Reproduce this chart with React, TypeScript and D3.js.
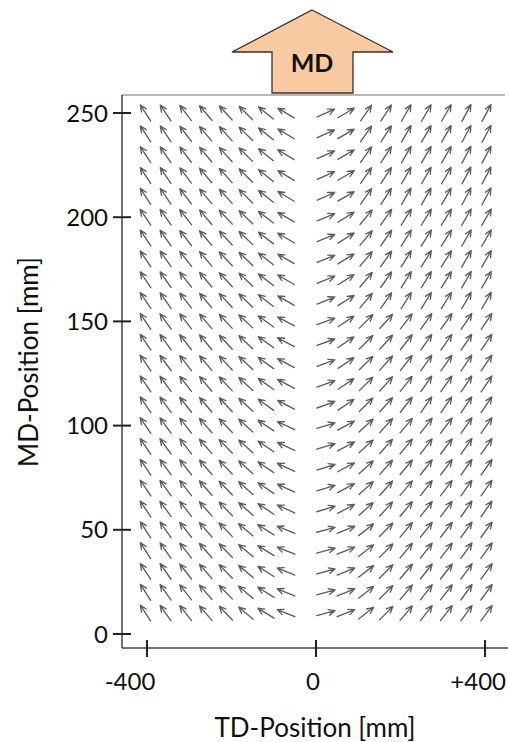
import React from "react";
import * as d3 from "d3";

// Grid of measurement positions (mm)
const tdLeft = [-403.5, -356, -308.5, -261, -213.5, -166, -118.5, -71];
const tdRight = [23.5, 71, 118.5, 166, 213.5, 261, 308.5, 356, 403.5];
const mdRows = [250, 240, 230, 220, 210, 200, 190, 180, 170, 160, 150, 140, 130, 120, 110, 100, 90, 80, 70, 60, 50, 40, 30, 20, 10];

// Orientation angle (degrees above horizontal), one list per band of five rows, top to bottom
const angleLeft = [
  [57, 56, 53, 50, 48, 45, 39, 31],
  [56, 55, 52, 50, 47, 44, 38, 30],
  [56, 54, 52, 50, 47, 43, 36, 28],
  [56, 54, 52, 49, 46, 42, 34, 25],
  [57, 55, 52, 49, 46, 40, 32, 22],
];
const angleRight = [
  [24, 30, 55, 57, 60, 60, 60, 62, 62],
  [22, 32, 50, 55, 58, 58, 58, 60, 60],
  [20, 34, 45, 48, 52, 55, 55, 56, 56],
  [17, 28, 42, 48, 50, 52, 53, 55, 55],
  [15, 22, 38, 45, 50, 52, 52, 54, 54],
];

const yTicks = [0, 50, 100, 150, 200, 250];
const xTicks = [-400, 0, 400];
const xTickLabels = ["-400", "0", "+400"];

const W = 508;
const H = 742;
const FONT = "Lato, 'Open Sans', sans-serif";

export default function App() {
  const x = d3.scaleLinear().domain([-400, 400]).range([147, 485]);
  const y = d3.scaleLinear().domain([0, 250]).range([634, 113]);

  const plotLeft = 122;
  const plotTop = 95;
  const plotRight = 505;
  const plotBottom = 648;

  const arrowLen = 19;
  const headLen = 7;
  const headAng = (24 * Math.PI) / 180;

  type Arrow = { cx: number; cy: number; ang: number; sign: number; key: string };
  const arrows: Arrow[] = [];
  mdRows.forEach((md, ri) => {
    const band = Math.min(4, Math.floor(ri / 5));
    tdLeft.forEach((td, ci) => {
      arrows.push({ cx: x(td), cy: y(md), ang: angleLeft[band][ci], sign: -1, key: `l${ri}-${ci}` });
    });
    tdRight.forEach((td, ci) => {
      arrows.push({ cx: x(td), cy: y(md), ang: angleRight[band][ci], sign: 1, key: `r${ri}-${ci}` });
    });
  });

  const arrowPath = (a: Arrow) => {
    const t = (a.ang * Math.PI) / 180;
    const dx = a.sign * Math.cos(t);
    const dy = -Math.sin(t);
    const hx = a.cx + (dx * arrowLen) / 2;
    const hy = a.cy + (dy * arrowLen) / 2;
    const tx = a.cx - (dx * arrowLen) / 2;
    const ty = a.cy - (dy * arrowLen) / 2;
    const back = Math.atan2(-dy, -dx);
    const p = d3.path();
    p.moveTo(tx, ty);
    p.lineTo(hx, hy);
    p.moveTo(hx + headLen * Math.cos(back + headAng), hy + headLen * Math.sin(back + headAng));
    p.lineTo(hx, hy);
    p.lineTo(hx + headLen * Math.cos(back - headAng), hy + headLen * Math.sin(back - headAng));
    return p.toString();
  };

  // Machine-direction block arrow above the plot
  const md = d3.path();
  md.moveTo(312, 10);
  md.lineTo(393, 52);
  md.lineTo(353, 52);
  md.lineTo(353, 93);
  md.lineTo(272, 93);
  md.lineTo(272, 52);
  md.lineTo(232, 52);
  md.closePath();

  // tick label placement along the TD axis
  const xLabelPos = [
    { x: x(-400) - 17, anchor: "middle" },
    { x: x(0) - 3, anchor: "middle" },
    { x: 506, anchor: "end" },
  ];

  return (
    <svg width={W} height={H} style={{ position: "absolute", left: 0, top: 0, background: "#fff" }}>
      <rect width={W} height={H} fill="#fff" />
      {/* frame */}
      <line x1={plotLeft} x2={plotRight} y1={plotTop} y2={plotTop} stroke="#a0a0a0" strokeWidth={1.5} />
      <line x1={plotLeft} x2={plotLeft} y1={plotTop} y2={plotBottom} stroke="#444" strokeWidth={1.5} />
      <line x1={plotLeft} x2={W} y1={plotBottom} y2={plotBottom} stroke="#444" strokeWidth={1.5} />

      {/* MD arrow */}
      <path d={md.toString()} fill="#F9C9A2" stroke="#333" strokeWidth={1.3} strokeLinejoin="miter" />
      <text x={312} y={72} textAnchor="middle" fontFamily={FONT} fontWeight={700} fontSize={25} fill="#111">
        MD
      </text>

      {/* vector field */}
      <g stroke="#5e5e5e" strokeWidth={1.35} fill="none" strokeLinecap="round" strokeLinejoin="round">
        {arrows.map((a) => (
          <path key={a.key} d={arrowPath(a)} />
        ))}
      </g>

      {/* y axis */}
      <g>
        {yTicks.map((t) => (
          <g key={t}>
            <line x1={113} x2={131} y1={y(t)} y2={y(t)} stroke="#222" strokeWidth={2} />
            <text x={108} y={y(t)} dy="0.36em" textAnchor="end" fontFamily={FONT} fontSize={24} fill="#111">
              {t}
            </text>
          </g>
        ))}
      </g>

      {/* x axis */}
      <g>
        {xTicks.map((t, i) => (
          <g key={t}>
            <line x1={x(t)} x2={x(t)} y1={640} y2={657} stroke="#222" strokeWidth={2} />
            <text
              x={xLabelPos[i].x}
              y={690}
              textAnchor={xLabelPos[i].anchor as any}
              fontFamily={FONT}
              fontSize={24}
              fill="#111"
            >
              {xTickLabels[i]}
            </text>
          </g>
        ))}
      </g>

      {/* axis titles */}
      <text x={315} y={737} textAnchor="middle" fontFamily={FONT} fontSize={26} fill="#111">
        TD-Position [mm]
      </text>
      <text
        transform={`translate(38,362) rotate(-90)`}
        textAnchor="middle"
        fontFamily={FONT}
        fontSize={26}
        fill="#111"
      >
        MD-Position [mm]
      </text>
    </svg>
  );
}
